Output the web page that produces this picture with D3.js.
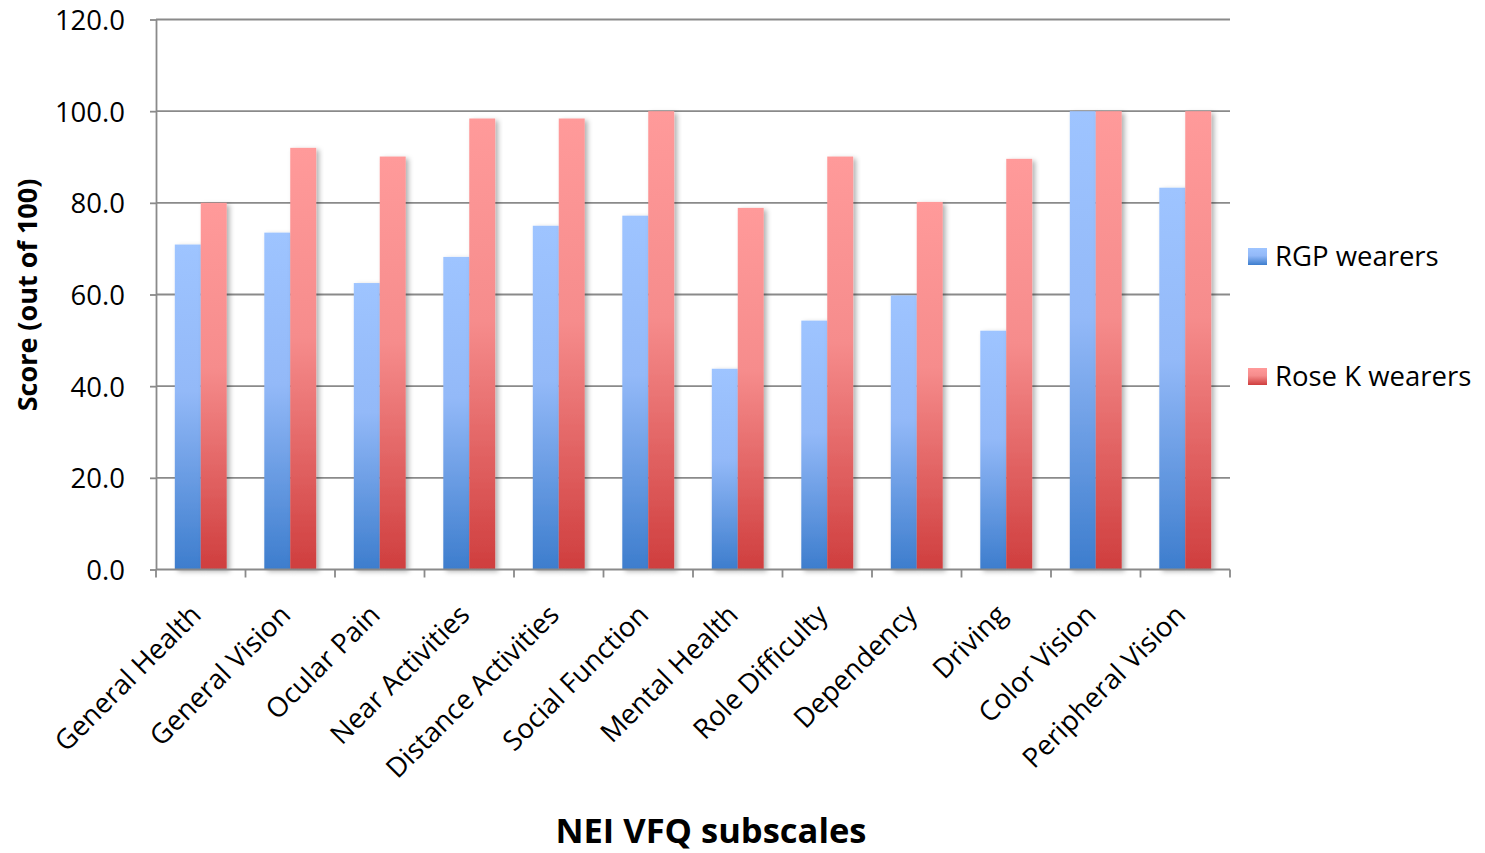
<!DOCTYPE html>
<html>
<head>
<meta charset="utf-8">
<script src="https://cdn.jsdelivr.net/npm/d3@7"></script>
<style>
  body { margin: 0; background: #fff; }
  text { font-family: "Open Sans", "Noto Sans", sans-serif; fill: #000; }
</style>
</head>
<body>
<script>
// chart data
var categories = ["General Health", "General Vision", "Ocular Pain", "Near Activities",
  "Distance Activities", "Social Function", "Mental Health", "Role Difficulty",
  "Dependency", "Driving", "Color Vision", "Peripheral Vision"];
var seriesNames = ["RGP wearers", "Rose K wearers"];
var rgpValues = [70.9, 73.5, 62.5, 68.2, 75.0, 77.2, 43.8, 54.3, 59.8, 52.1, 100.0, 83.3];
var roseKValues = [80.0, 92.0, 90.1, 98.4, 98.4, 100.0, 78.9, 90.1, 80.2, 89.6, 100.0, 100.0];
var yTicks = [0, 20, 40, 60, 80, 100, 120];

var svgWidth = 1485;
var svgHeight = 853;

// plot area edges
var chartMargin = { top: 19.5, right: 255, bottom: 283.5, left: 156 };
var chartWidth = svgWidth - chartMargin.left - chartMargin.right;
var chartHeight = svgHeight - chartMargin.top - chartMargin.bottom;

var svg = d3.select("body")
  .append("svg")
  .attr("width", svgWidth)
  .attr("height", svgHeight);

var defs = svg.append("defs");

// gradients, light at the top of each bar
function addGradient(id, stops) {
  var g = defs.append("linearGradient")
    .attr("id", id)
    .attr("x1", 0).attr("y1", 0)
    .attr("x2", 0).attr("y2", 1);
  stops.forEach(function(s) {
    g.append("stop").attr("offset", s[0]).attr("stop-color", s[1]);
  });
}
addGradient("gradBlue", [[0, "#9ec4ff"], [0.45, "#93b9f8"], [1, "#3d7dcd"]]);
addGradient("gradRed", [[0, "#ff9a9a"], [0.45, "#f68c8c"], [1, "#cf3e3e"]]);

var shadow = defs.append("filter")
  .attr("id", "shadow")
  .attr("x", "-30%").attr("y", "-10%")
  .attr("width", "160%").attr("height", "120%");
shadow.append("feDropShadow")
  .attr("dx", 3).attr("dy", 2)
  .attr("stdDeviation", 2.5)
  .attr("flood-color", "#000")
  .attr("flood-opacity", 0.3);

var chartGroup = svg.append("g")
  .attr("transform", `translate(${chartMargin.left}, ${chartMargin.top})`);

var xBandScale = d3.scaleBand()
  .domain(categories)
  .range([0, chartWidth])
  .padding(0);

var xSubScale = d3.scaleBand()
  .domain(seriesNames)
  .range([xBandScale.bandwidth() * 0.21, xBandScale.bandwidth() * 0.79])
  .padding(0);

var yLinearScale = d3.scaleLinear()
  .domain([0, 120])
  .range([chartHeight, 0]);

// gridlines
chartGroup.selectAll(".grid")
  .data(yTicks.filter(d => d > 0))
  .enter()
  .append("line")
  .attr("x1", 0)
  .attr("x2", chartWidth)
  .attr("y1", d => yLinearScale(d))
  .attr("y2", d => yLinearScale(d))
  .attr("stroke", "#8a8a8a")
  .attr("stroke-width", 1.8);

// left axis
var leftAxis = d3.axisLeft(yLinearScale)
  .tickValues(yTicks)
  .tickFormat(d3.format(".1f"))
  .tickSize(6)
  .tickSizeOuter(0);

var yAxisG = chartGroup.append("g").call(leftAxis);
yAxisG.select(".domain").attr("stroke", "#8a8a8a").attr("stroke-width", 1.8);
yAxisG.selectAll(".tick line").attr("stroke", "#8a8a8a").attr("stroke-width", 1.8);
yAxisG.selectAll(".tick text")
  .attr("x", -31)
  .attr("dy", "0.36em")
  .style("font-size", "27.5px");

// bars
var series = [
  { name: seriesNames[0], values: rgpValues, fill: "url(#gradBlue)" },
  { name: seriesNames[1], values: roseKValues, fill: "url(#gradRed)" }
];

var groups = chartGroup.selectAll(".cat")
  .data(categories)
  .enter()
  .append("g")
  .attr("class", "cat")
  .attr("transform", d => `translate(${xBandScale(d)}, 0)`);

series.forEach(function(s) {
  groups.append("rect")
    .attr("x", xSubScale(s.name))
    .attr("y", (d, i) => yLinearScale(s.values[i]))
    .attr("width", xSubScale.bandwidth())
    .attr("height", (d, i) => chartHeight - yLinearScale(s.values[i]))
    .attr("fill", s.fill)
    .attr("filter", "url(#shadow)");
});

// bottom axis line and ticks between categories
chartGroup.append("line")
  .attr("x1", 0).attr("x2", chartWidth)
  .attr("y1", chartHeight).attr("y2", chartHeight)
  .attr("stroke", "#8a8a8a")
  .attr("stroke-width", 1.8);

chartGroup.selectAll(".xtick")
  .data(categories.concat(["end"]))
  .enter()
  .append("line")
  .attr("x1", d => d === "end" ? chartWidth : xBandScale(d))
  .attr("x2", d => d === "end" ? chartWidth : xBandScale(d))
  .attr("y1", chartHeight)
  .attr("y2", chartHeight + 8)
  .attr("stroke", "#8a8a8a")
  .attr("stroke-width", 1.8);

// category labels, rotated
var bottomAxis = d3.axisBottom(xBandScale).tickSize(0);
var xAxisG = chartGroup.append("g")
  .attr("transform", `translate(0, ${chartHeight})`)
  .call(bottomAxis);
xAxisG.select(".domain").remove();
xAxisG.selectAll(".tick text")
  .style("font-size", "27.5px")
  .style("text-anchor", "end")
  .attr("x", 0)
  .attr("y", 0)
  .attr("dy", 0)
  .attr("transform", "translate(2, 47) rotate(-45)");

// axis titles
svg.append("text")
  .attr("transform", "translate(37, 295) rotate(-90)")
  .attr("text-anchor", "middle")
  .style("font-size", "27px")
  .style("font-weight", "bold")
  .text("Score (out of 100)");

svg.append("text")
  .attr("x", 711)
  .attr("y", 843)
  .attr("text-anchor", "middle")
  .style("font-size", "34.5px")
  .style("font-weight", "bold")
  .text("NEI VFQ subscales");

// legend
var legend = svg.selectAll(".legend")
  .data(series)
  .enter()
  .append("g")
  .attr("class", "legend")
  .attr("transform", (d, i) => `translate(1248, ${248 + i * 120})`);

legend.append("rect")
  .attr("width", 19)
  .attr("height", 17)
  .attr("fill", d => d.fill);

legend.append("text")
  .attr("x", 27)
  .attr("y", 18)
  .style("font-size", "27.5px")
  .text(d => d.name);
</script>
</body>
</html>
